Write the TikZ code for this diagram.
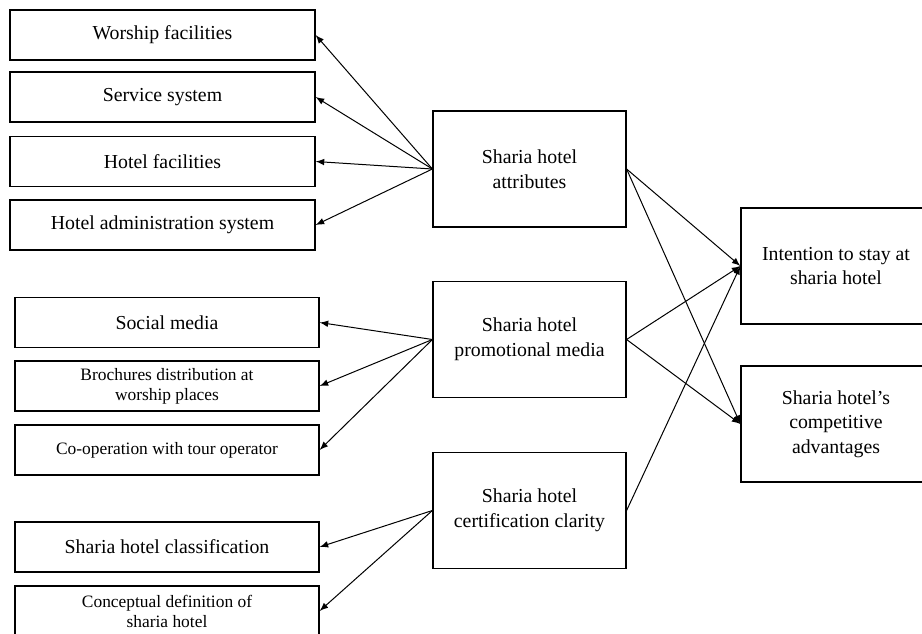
\documentclass[tikz,border=0pt]{standalone}
\usepackage{fontspec}
\setmainfont{Liberation Serif}
\begin{document}
\begin{tikzpicture}[x=0.5pt, y=-0.5pt,
  caixa/.style={draw, line width=0.6pt, align=center, inner sep=0pt, font=\fontsize{9.9}{12.3}\selectfont},
  esqa/.style={caixa, minimum width=152.5pt, minimum height=25pt},
  esqb/.style={caixa, minimum width=152pt, minimum height=25pt},
  meio/.style={caixa, minimum width=96.5pt, minimum height=58pt},
  dir/.style={caixa, minimum width=95pt, minimum height=58pt},
  pequeno/.style={font=\fontsize{8.7}{10}\selectfont},
  seta/.style={-latex, line width=0.5pt}]

\useasboundingbox (0,0) rectangle (922,633);
\clip (0,0) rectangle (922,633);

% Caixas da esquerda (atributos)
\node[esqa] (wor) at (162.5,35) {Worship facilities};
\node[esqa] (ser) at (162.5,97) {Service system};
\node[esqa] (fac) at (162.5,161.5) {Hotel facilities};
\node[esqa] (adm) at (162.5,225) {Hotel administration system};

% Caixas da esquerda (media e certificacao)
\node[esqb] (soc) at (167,322.5) {Social media};
\node[esqb, pequeno] (bro) at (167,386) {Brochures distribution at\\worship places};
\node[esqb, pequeno] (coo) at (167,450) {Co-operation with tour operator};
\node[esqb] (cla) at (167,547) {Sharia hotel classification};
\node[esqb, pequeno] (con) at (167,611) {Conceptual definition of\\sharia hotel};

% Caixas do meio
\node[meio] (atr) at (529.5,169) {Sharia hotel\\attributes};
\node[meio] (pro) at (529.5,339.5) {Sharia hotel\\promotional media};
\node[meio] (cer) at (529.5,510.5) {Sharia hotel\\certification clarity};

% Caixas da direita
\node[dir] (int) at (836,266) {Intention to stay at\\sharia hotel};
\node[dir] (com) at (836,424) {Sharia hotel’s\\competitive\\advantages};

% Setas para a esquerda
\draw[seta] (atr.west) -- (wor.east);
\draw[seta] (atr.west) -- (ser.east);
\draw[seta] (atr.west) -- (fac.east);
\draw[seta] (atr.west) -- (adm.east);
\draw[seta] (pro.west) -- (soc.east);
\draw[seta] (pro.west) -- (bro.east);
\draw[seta] (pro.west) -- (coo.east);
\draw[seta] (cer.west) -- (cla.east);
\draw[seta] (cer.west) -- (con.east);

% Setas para a direita
\draw[seta] (atr.east) -- (int.west);
\draw[seta] (atr.east) -- (com.west);
\draw[seta] (pro.east) -- (int.west);
\draw[seta] (pro.east) -- (com.west);
\draw[seta] (cer.east) -- (int.west);

\end{tikzpicture}
\end{document}
